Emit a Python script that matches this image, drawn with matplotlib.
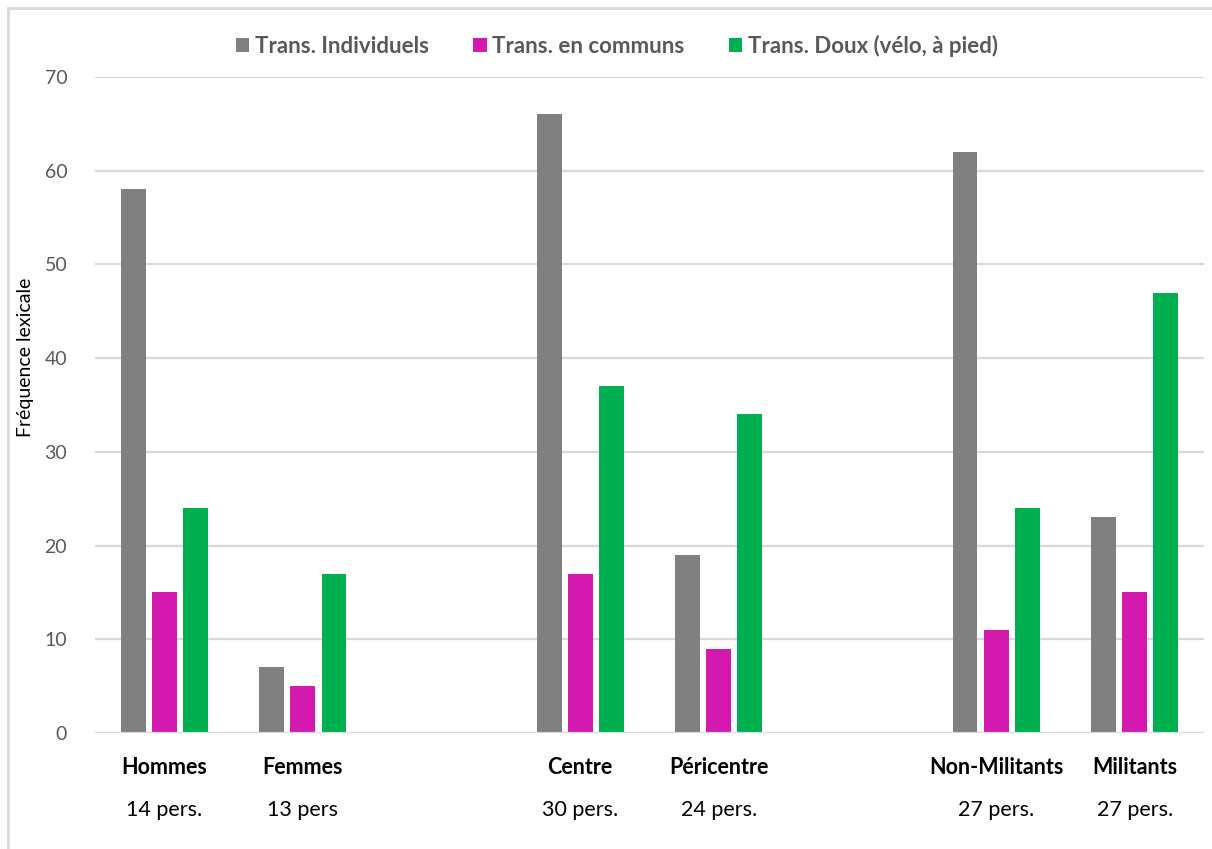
import matplotlib.pyplot as plt
from matplotlib.transforms import blended_transform_factory
from matplotlib.patches import Rectangle
import numpy as np

# Data (empty strings are spacer slots)
categories = ["Hommes", "Femmes", "", "Centre", "Péricentre", "", "Non-Militants", "Militants"]
counts = ["14 pers.", "13 pers", "", "30 pers.", "24 pers.", "", "27 pers.", "27 pers."]
series_names = ["Trans. Individuels", "Trans. en communs", "Trans. Doux (vélo, à pied)"]
individuels = [58, 7, None, 66, 19, None, 62, 23]
communs = [15, 5, None, 17, 9, None, 11, 15]
doux = [24, 17, None, 37, 34, None, 24, 47]
colors = ["#808080", "#D41AAE", "#00B050"]

plt.rcParams['font.family'] = ['Lato', 'DejaVu Sans']

fig = plt.figure(figsize=(12.12, 8.49), dpi=100)
ax = fig.add_axes([95 / 1212, 1 - 733 / 849, 1109 / 1212, 656 / 849])

x = np.arange(len(categories))
width = 0.18
step = 0.224
for i, (vals, name, col) in enumerate(zip([individuels, communs, doux], series_names, colors)):
    xs = [xi + (i - 1) * step for xi, v in zip(x, vals) if v is not None]
    ys = [v for v in vals if v is not None]
    ax.bar(xs, ys, width=width, color=col, label=name, zorder=3)

ax.set_xlim(-0.5, len(categories) - 0.5)
ax.set_ylim(0, 70)
ax.set_yticks(range(0, 71, 10))
ax.yaxis.grid(True, color="#d9d9d9", linewidth=1.6, zorder=0)
for s in ax.spines.values():
    s.set_visible(False)
ax.axhline(0, color="#d9d9d9", linewidth=1.6, zorder=4)
ax.tick_params(axis='y', length=0, pad=20, labelsize=14, labelcolor="#595959")
ax.tick_params(axis='x', length=0, pad=17)
ax.set_xticks(x)
ax.set_xticklabels(categories, fontsize=15.5, fontweight='bold', color="black")

trans = blended_transform_factory(ax.transData, fig.transFigure)
for xi, c in zip(x, counts):
    if c:
        fig.text(xi, 1 - 810 / 849, c, transform=trans, ha='center', va='center',
                 fontsize=15.5, color="black")

fig.text(26 / 1212, 1 - 357 / 849, "Fréquence lexicale", rotation=90,
         ha='center', va='center', fontsize=14, color="black")

leg = fig.legend(loc='center', bbox_to_anchor=(617 / 1212, 1 - 46 / 849), ncol=3,
                 frameon=False, prop={'weight': 'bold', 'size': 16},
                 handlelength=0.6, handleheight=0.6, handletextpad=0.25,
                 columnspacing=2.0)
for t in leg.get_texts():
    t.set_color("#595959")

fig.add_artist(Rectangle((8 / 1212, -0.1), 1.2, 1 - 8 / 849 + 0.1,
                         transform=fig.transFigure, fill=False,
                         edgecolor="#d9d9d9", linewidth=2))

fig.savefig("out.png", dpi=100)
